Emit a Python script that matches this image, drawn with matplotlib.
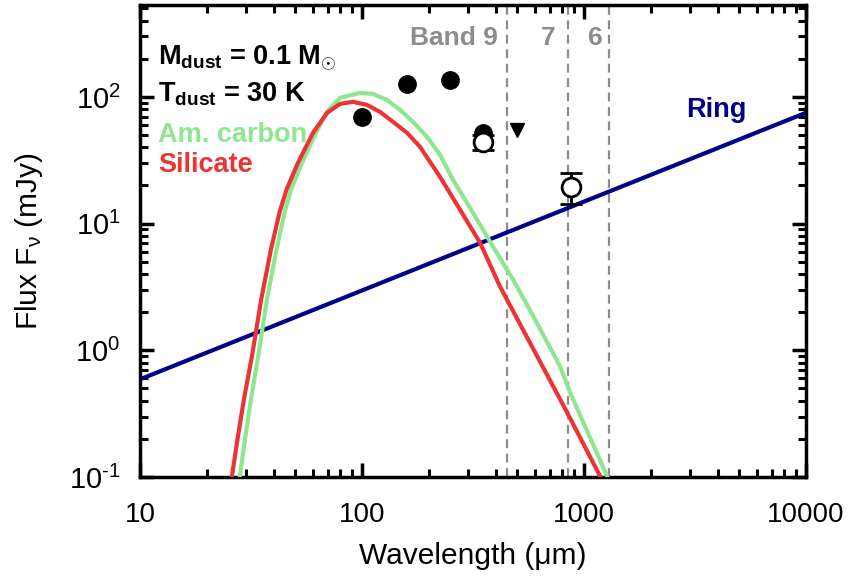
import matplotlib
matplotlib.use("Agg")
import matplotlib.pyplot as plt

plt.rcParams['font.family'] = ['Liberation Sans', 'DejaVu Sans']
plt.rcParams['mathtext.fontset'] = 'custom'
plt.rcParams['mathtext.rm'] = 'Liberation Sans'
plt.rcParams['mathtext.it'] = 'Liberation Sans:italic'
plt.rcParams['mathtext.bf'] = 'Liberation Sans:bold'

# Silicate model curve
sil_wl = [25.2, 25.97, 27.5, 29.4, 32.06, 35.16, 38.9, 42.5, 45.7, 51.5, 60.2, 69.6,
          79.6, 91.1, 105.3, 120.5, 137.9, 159.5, 182.5, 224.6, 276.3, 340, 418.4,
          838, 1180, 1337]
sil_fx = [0.067, 0.102, 0.199, 0.411, 0.930, 2.52, 6.24, 12.2, 18.5, 30.2, 52.1, 74.8,
          88.1, 91.4, 86.5, 76.2, 63.6, 52.1, 40.4, 23.4, 12.9, 7.08, 3.19,
          0.325, 0.102, 0.067]

# Amorphous carbon model curve
car_wl = [27.2, 28.2, 29.72, 31.62, 34.2, 37.33, 41.2, 44.8, 47.9, 53.7, 62.05, 69.6,
          79.6, 97.9, 112.1, 129.6, 148.3, 169.7, 196.3, 224.6, 257, 316, 389, 479,
          559, 780, 865, 1269, 1408]
car_fx = [0.067, 0.102, 0.199, 0.411, 0.930, 2.52, 6.24, 12.2, 18.5, 30.2, 52.1, 76.2,
          98.2, 107.5, 105.6, 94.7, 79.0, 63.6, 48.4, 34.9, 22.2, 12.2, 6.59, 3.62,
          2.22, 0.748, 0.467, 0.102, 0.067]

# Ring power law
ring_wl = [10, 10000]
ring_fx = [0.59, 75]

# Photometry
filled_wl = [100, 160, 250, 350]
filled_fx = [70, 127, 136, 52]
open_wl = [350, 870]
open_fx = [44, 19.6]
open_err_lo = [6, 5.2]
open_err_hi = [6, 5.7]
upper_wl = [500]
upper_fx = [55]

# ALMA bands
band_wl = [450, 850, 1300]
band_labels = ['Band 9', '7', '6']

GREEN = '#8ee68e'
RED = '#ec3434'
NAVY = '#00008b'
GRAY = '#8c8c8c'

fig = plt.figure(figsize=(8.65, 5.84), dpi=100)
ax = fig.add_axes([0.1618, 0.1832, 0.77, 0.808])
ax.set_xscale('log')
ax.set_yscale('log')
ax.set_xlim(10, 10000)
ax.set_ylim(0.1, 530)

for w in band_wl:
    ax.axvline(w, color=GRAY, ls=(0, (4, 2.5)), lw=1.6, zorder=1)

ax.plot(ring_wl, ring_fx, color=NAVY, lw=3, zorder=2)
ax.plot(car_wl, car_fx, color=GREEN, lw=3, zorder=3)
ax.plot(sil_wl, sil_fx, color=RED, lw=3, zorder=4)

ax.plot(filled_wl, filled_fx, 'o', color='black', ms=12.5, zorder=6)
ax.errorbar(open_wl, open_fx, yerr=[open_err_lo, open_err_hi], fmt='o', mfc='white',
            mec='black', mew=2, ms=13.5, ecolor='black', elinewidth=2, capsize=8,
            capthick=2, zorder=7)
ax.plot(upper_wl, upper_fx, 'v', color='black', ms=10, zorder=6)

# band labels
bkw = dict(color=GRAY, fontsize=19, fontweight='bold', va='baseline')
ax.text(410, 256, band_labels[0], ha='right', **bkw)
ax.text(689, 256, band_labels[1], ha='center', **bkw)
ax.text(1121, 256, band_labels[2], ha='center', **bkw)

tkw = dict(fontsize=19.5, fontweight='bold', ha='left', va='baseline')
ax.text(12.06, 179, r'M$_{\mathbf{dust}}$ = 0.1 M$_{\odot}$', **tkw)
ax.text(12.06, 91.4, r'T$_{\mathbf{dust}}$ = 30 K', **tkw)
ax.text(12.06, 44.3, 'Am. carbon', color=GREEN, **tkw)
ax.text(12.06, 25.6, 'Silicate', color=RED, **tkw)
ax.text(3935, 69.6, 'Ring', fontsize=19.5, fontweight='bold', color=NAVY,
        ha='center', va='baseline')

ax.set_xticks([10, 100, 1000, 10000])
ax.set_xticklabels(['10', '100', '1000', '10000'])
ax.set_yticks([0.1, 1, 10, 100])
ax.set_yticklabels([r'10$^{\text{-1}}$', r'10$^{0}$', r'10$^{1}$', r'10$^{2}$'])
ax.tick_params(which='both', direction='in', top=True, right=True)
ax.tick_params(axis='x', labelsize=20)
ax.tick_params(axis='y', labelsize=21)
ax.tick_params(which='major', length=10, width=2.5)
ax.tick_params(axis='x', which='major', pad=18)
ax.tick_params(axis='y', which='major', pad=14)
ax.tick_params(which='minor', length=6, width=2.2)
for s in ax.spines.values():
    s.set_linewidth(2.5)

ax.set_xlabel('Wavelength (μm)', fontsize=21.5, labelpad=10)
ax.set_ylabel(r'Flux F$_{\mathrm{\nu}}$ (mJy)', fontsize=21.5, labelpad=17)

fig.savefig('out.png', dpi=100)
